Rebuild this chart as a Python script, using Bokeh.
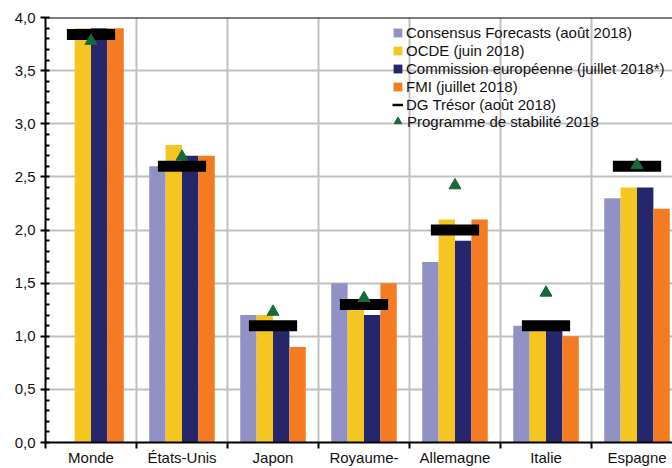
import numpy as np
from bokeh.plotting import figure
from bokeh.models import (Range1d, FixedTicker, CustomJSTickFormatter, Span,
                          Legend, LegendItem)
from bokeh.embed import file_html
from bokeh.resources import INLINE

categories = ["Monde", "États-Unis", "Japon", "Royaume-", "Allemagne", "Italie", "Espagne"]
consensus = [np.nan, 2.6, 1.2, 1.5, 1.7, 1.1, 2.3]
ocde = [3.9, 2.8, 1.2, 1.3, 2.1, 1.1, 2.4]
commission = [3.9, 2.7, 1.1, 1.2, 1.9, 1.1, 2.4]
fmi = [3.9, 2.7, 0.9, 1.5, 2.1, 1.0, 2.2]
dg_tresor = [3.84, 2.6, 1.1, 1.3, 2.0, 1.1, 2.6]
programme = [3.78, 2.69, 1.23, 1.36, 2.42, 1.41, 2.61]

series_names = ["Consensus Forecasts (août 2018)", "OCDE (juin 2018)",
                "Commission européenne (juillet 2018*)", "FMI (juillet 2018)"]
dg_name = "DG Trésor (août 2018)"
prog_name = "Programme de stabilité 2018"

colors = ["#9191C6", "#F5C622", "#26266C", "#F47B22"]
GREEN = "#17693A"
FONT = "Liberation Sans"

n = len(categories)
centers = np.arange(n) + 0.5
bar_w = 0.18
offsets = [-1.5 * bar_w, -0.5 * bar_w, 0.5 * bar_w, 1.5 * bar_w]

p = figure(width=672, height=468, output_backend="svg", toolbar_location=None,
           x_range=Range1d(0, 6.89), y_range=Range1d(0, 4.0),
           min_border_left=45, min_border_top=17, min_border_right=0,
           min_border_bottom=25)
p.outline_line_color = None
p.background_fill_color = "white"

# grids
p.xgrid.ticker = FixedTicker(ticks=list(np.arange(1, n)))
for g in (p.xgrid, p.ygrid):
    g.grid_line_color = "#C0C0C0"
    g.grid_line_width = 2

# y axis
yax = p.yaxis[0]
yax.ticker = FixedTicker(ticks=[i * 0.5 for i in range(9)],
                         minor_ticks=[round(i * 0.1, 1) for i in range(41)])
yax.formatter = CustomJSTickFormatter(code="return tick.toFixed(1).replace('.', ',');")
yax.axis_line_color = "black"
yax.axis_line_width = 2
yax.major_tick_line_color = "black"
yax.major_tick_line_width = 2
yax.major_tick_out = 5
yax.major_tick_in = 0
yax.minor_tick_line_color = "black"
yax.minor_tick_line_width = 2
yax.minor_tick_in = 4
yax.minor_tick_out = 0
yax.major_label_standoff = 5
yax.major_label_text_font = FONT
yax.major_label_text_font_size = "15px"
yax.major_label_text_color = "#111111"

# x axis
xax = p.xaxis[0]
xax.ticker = FixedTicker(ticks=list(centers), minor_ticks=list(np.arange(0, n + 1)))
xax.formatter = CustomJSTickFormatter(args=dict(names=categories),
                                      code="return names[Math.round(tick - 0.5)];")
xax.axis_line_color = "black"
xax.axis_line_width = 2
xax.major_tick_out = 0
xax.major_tick_in = 0
xax.minor_tick_line_color = "black"
xax.minor_tick_line_width = 2
xax.minor_tick_out = 6
xax.minor_tick_in = 0
xax.major_label_standoff = 0
xax.major_label_text_font = FONT
xax.major_label_text_font_size = "15px"
xax.major_label_text_color = "#111111"

# bars
bar_renderers = []
for vals, off, col in zip([consensus, ocde, commission, fmi], offsets, colors):
    r = p.vbar(x=centers + off, top=vals, width=bar_w, bottom=0,
               fill_color=col, line_color=None)
    bar_renderers.append(r)

# DG Trésor marks
p.rect(x=centers, y=dg_tresor, width=0.53, height=11, height_units="screen",
       fill_color="black", line_color=None)
dg_legend = p.line(x=[np.nan, np.nan], y=[np.nan, np.nan], line_color="black", line_width=2.5)

# Programme de stabilité triangles
prog_r = p.scatter(x=centers, y=programme, marker="triangle", size=12,
                   fill_color=GREEN, line_color=GREEN)

# top border
p.add_layout(Span(location=4.0, dimension="width", line_color="black", line_width=2))

items = [LegendItem(label=nm, renderers=[r]) for nm, r in zip(series_names, bar_renderers)]
items.append(LegendItem(label=dg_name, renderers=[dg_legend]))
legend = Legend(items=items, location=(347, 329), padding=0, margin=0, spacing=1,
                glyph_width=11, glyph_height=11, label_height=16, label_standoff=3,
                label_text_font=FONT, label_text_font_size="15px",
                label_text_color="#111111",
                background_fill_alpha=0, border_line_color=None)
p.add_layout(legend)

legend2 = Legend(items=[LegendItem(label=prog_name, renderers=[prog_r])],
                 location=(343, 310), padding=0, margin=0, spacing=0,
                 glyph_width=19, glyph_height=22, label_height=16, label_standoff=0,
                 label_text_font=FONT, label_text_font_size="15px",
                 label_text_color="#111111",
                 background_fill_alpha=0, border_line_color=None)
p.add_layout(legend2)

open("out.html", "w").write(file_html(p, INLINE))
